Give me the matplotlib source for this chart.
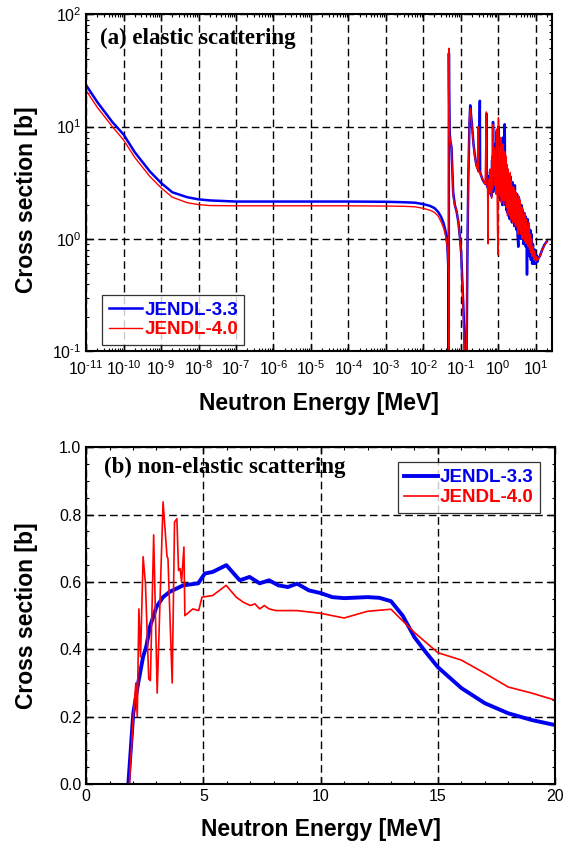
import matplotlib
matplotlib.use("Agg")
import numpy as np
import matplotlib.pyplot as plt
from matplotlib.ticker import (LogLocator, MultipleLocator, FormatStrFormatter,
                               NullFormatter, FuncFormatter)

plt.rcParams["font.family"] = ["Liberation Sans", "DejaVu Sans"]
plt.rcParams["mathtext.fontset"] = "custom"
plt.rcParams["mathtext.rm"] = "Liberation Sans"
plt.rcParams["mathtext.it"] = "Liberation Sans:italic"
plt.rcParams["mathtext.bf"] = "Liberation Sans:bold"

labels = ["JENDL-3.3", "JENDL-4.0"]
colors = ["#0000ee", "#ff0000"]

# (a) elastic scattering, energy in MeV, cross section in b
# smooth part
e_el_a = [1e-11, 2e-11, 5e-11, 1e-10, 2e-10, 5e-10, 1e-9, 2e-9, 5e-9, 1e-8, 2e-8, 1e-7,
          1e-6, 1e-5, 1e-4, 1e-3, 3e-3, 6e-3, 1e-2, 1.5e-2, 2e-2, 2.5e-2, 3e-2, 3.5e-2,
          4e-2, 4.4e-2]
xs33_a = [23.4, 16.5, 11.0, 8.5, 5.9, 4.0, 3.15, 2.6, 2.35, 2.25, 2.2, 2.15,
          2.15, 2.15, 2.15, 2.14, 2.12, 2.1, 2.04, 1.97, 1.88, 1.74, 1.57, 1.38,
          1.15, 0.88]
xs40_a = [21.0, 14.8, 10.0, 7.6, 5.3, 3.6, 2.85, 2.35, 2.1, 2.02, 1.98, 1.97,
          1.97, 1.97, 1.97, 1.96, 1.95, 1.93, 1.87, 1.8, 1.72, 1.6, 1.42, 1.25,
          1.05, 0.85]

# first resonances
e_el_b = [0.0465, 0.0475, 0.048, 0.0485, 0.049, 0.0505, 0.053, 0.057, 0.063, 0.07, 0.078,
          0.087, 0.095, 0.103, 0.11, 0.118, 0.125, 0.132, 0.142, 0.148, 0.153, 0.16,
          0.166, 0.172]
xs33_b = [0.6, 0.5, 0.05, 45.0, 22.0, 9.0, 7.5, 6.5, 2.6, 2.0, 1.75, 1.4, 1.05,
          0.75, 0.45, 0.25, 0.14, 0.06, 0.05, 0.3, 1.1, 3.5, 6.0, 11.0]
xs40_b = [0.6, 0.5, 0.05, 50.0, 22.0, 8.5, 7.5, 6.5, 2.4, 1.95, 1.8, 1.4, 1.0,
          0.75, 0.4, 0.2, 0.1, 0.05, 0.05, 0.4, 1.2, 3.8, 6.0, 12.0]

e_el_c = [0.18, 0.19, 0.2, 0.21, 0.22, 0.235, 0.25, 0.265, 0.28, 0.29, 0.295, 0.3, 0.31,
          0.325, 0.33, 0.34, 0.36, 0.38, 0.4, 0.42, 0.45, 0.48, 0.49, 0.5, 0.52, 0.54]
xs33_c = [15.5, 12.5, 10.5, 8.5, 7.0, 5.8, 5.0, 4.5, 4.3, 4.2, 4.1, 4.0, 4.0,
          17.0, 4.0, 3.8, 3.6, 3.4, 3.3, 3.2, 3.1, 3.2, 13.0, 3.0, 2.9, 2.8]
xs40_c = [14.5, 12.0, 10.0, 8.2, 6.8, 5.6, 4.9, 4.4, 4.2, 10.0, 4.1, 4.0, 3.9,
          4.0, 3.9, 3.7, 3.6, 3.4, 3.3, 3.2, 3.1, 13.5, 13.5, 3.0, 2.9, 0.9]

# dense resonance region
e_el_d = [0.55, 0.57, 0.59, 0.61, 0.63, 0.65, 0.67, 0.69, 0.71, 0.73,
          0.755, 0.78, 0.81, 0.84, 0.87, 0.9, 0.93, 0.96, 0.99, 1.02,
          1.06, 1.1, 1.14, 1.18, 1.22, 1.26, 1.3, 1.35, 1.4, 1.45,
          1.5, 1.55, 1.6, 1.66, 1.72, 1.78, 1.84, 1.9, 1.97, 2.04,
          2.11, 2.18, 2.26, 2.34, 2.42, 2.5, 2.6, 2.7, 2.8, 2.9,
          3.0, 3.1, 3.2, 3.3, 3.45, 3.6, 3.75, 3.9, 4.05, 4.2,
          4.35, 4.5, 4.7, 4.9, 5.1, 5.3, 5.5, 5.7, 5.9, 6.1,
          6.35, 6.6, 6.9, 7.2, 7.5, 7.8, 8.1]
xs33_d = [2.8, 3.6, 2.6, 4.0, 2.5, 2.7, 2.4, 5.0, 2.6, 11.0,
          3.2, 7.0, 2.8, 5.5, 2.6, 9.0, 2.7, 4.5, 3.0, 10.0,
          2.5, 6.0, 2.2, 7.5, 2.3, 5.0, 2.0, 8.0, 2.4, 4.5,
          10.5, 2.0, 5.0, 1.8, 4.2, 1.7, 3.8, 1.9, 3.4, 1.5,
          3.6, 1.6, 2.9, 1.4, 3.2, 1.5, 2.7, 1.3, 3.0, 1.3,
          2.4, 1.2, 2.5, 1.1, 0.85, 2.3, 1.2, 2.0, 1.0, 2.0,
          1.0, 1.8, 0.9, 1.7, 0.9, 1.6, 0.85, 1.3, 0.48, 1.5,
          0.8, 1.3, 0.7, 1.2, 0.65, 1.1, 0.6]
xs40_d = [2.8, 3.4, 2.6, 4.2, 2.6, 2.9, 2.3, 5.5, 2.8, 10.5,
          3.6, 6.5, 3.0, 6.0, 2.5, 9.5, 3.0, 1.2, 0.72, 12.0,
          2.8, 6.5, 2.4, 8.0, 2.1, 5.5, 2.2, 7.0, 2.0, 5.0,
          6.0, 2.2, 5.5, 1.9, 4.6, 1.6, 4.2, 1.7, 3.2, 1.6,
          3.9, 1.5, 3.3, 1.5, 2.9, 1.4, 2.9, 1.4, 2.7, 1.3,
          2.6, 1.3, 2.3, 1.2, 1.1, 2.4, 1.2, 2.2, 1.1, 1.9,
          1.0, 1.9, 1.0, 1.6, 0.95, 1.7, 0.9, 1.5, 1.0, 1.3,
          0.85, 1.4, 0.8, 1.1, 0.75, 1.0, 0.7]

e_el_e = [8.5, 9.0, 9.5, 10.0, 10.5, 11.0, 12.0, 13.0, 14.0, 15.0, 17.0, 20.0]
xs33_e = [0.9, 0.6, 0.8, 0.6, 0.72, 0.62, 0.68, 0.7, 0.75, 0.8, 0.88, 0.95]
xs40_e = [0.85, 0.65, 0.78, 0.63, 0.7, 0.65, 0.66, 0.7, 0.74, 0.8, 0.87, 0.95]

e_el = e_el_a + e_el_b + e_el_c + e_el_d + e_el_e
xs_el_33 = xs33_a + xs33_b + xs33_c + xs33_d + xs33_e
xs_el_40 = xs40_a + xs40_b + xs40_c + xs40_d + xs40_e

# (b) non-elastic scattering
e_ne_33 = [1.8, 1.87, 2.01, 2.22, 2.43, 2.57, 2.72, 3.0, 3.28, 3.57, 4.14, 4.78, 5.06,
           5.4, 5.98, 6.55, 6.97, 7.4, 7.8, 8.2, 8.6, 9.0, 9.5, 10.0, 10.5, 11.0, 12.0,
           12.5, 13.0, 13.5, 14.0, 14.5, 15.0, 16.0, 17.0, 18.0, 19.0, 20.0]
xs_ne_33 = [0.0, 0.07, 0.21, 0.30, 0.378, 0.41, 0.467, 0.526, 0.555, 0.571, 0.59, 0.596,
            0.625, 0.63, 0.65, 0.605, 0.615, 0.596, 0.605, 0.59, 0.585, 0.595, 0.575,
            0.567, 0.555, 0.552, 0.555, 0.553, 0.543, 0.5, 0.436, 0.39, 0.347, 0.285,
            0.24, 0.21, 0.19, 0.175]

e_ne_40 = [1.84, 2.01, 2.12, 2.18, 2.25, 2.32, 2.43, 2.53, 2.67, 2.74, 2.88, 3.03, 3.28,
           3.45, 3.49, 3.67, 3.77, 3.87, 3.94, 4.01, 4.07, 4.17, 4.21, 4.55, 4.8, 4.94,
           5.4, 5.97, 6.4, 6.7, 7.0, 7.2, 7.4, 7.6, 7.8, 8.1, 9.0, 10.0, 11.0, 12.0,
           13.0, 14.0, 15.0, 16.0, 17.0, 18.0, 19.0, 20.0]
xs_ne_40 = [0.0, 0.2, 0.3, 0.2, 0.52, 0.378, 0.675, 0.594, 0.312, 0.307, 0.74, 0.27,
            0.838, 0.675, 0.67, 0.3, 0.778, 0.788, 0.634, 0.64, 0.6, 0.704, 0.5, 0.52,
            0.515, 0.555, 0.56, 0.59, 0.555, 0.54, 0.53, 0.535, 0.52, 0.53, 0.52, 0.515,
            0.515, 0.507, 0.493, 0.513, 0.519, 0.45, 0.39, 0.368, 0.329, 0.288, 0.27,
            0.249]


def decade(x, pos):
    n = int(round(np.log10(x)))
    if n < 0:
        return r"$10^{\text{-}%d}$" % (-n)
    return r"$10^{%d}$" % n


fig = plt.figure(figsize=(5.63, 8.48), dpi=100)
ax1 = fig.add_axes([0.153, 0.586, 0.827, 0.397])
ax2 = fig.add_axes([0.153, 0.0755, 0.833, 0.397])

grid_style = dict(color="black", linestyle=(0, (5.5, 3)), linewidth=1.0)
leg_style = dict(prop={"weight": "bold", "size": 13.5}, frameon=True, fancybox=False,
                 edgecolor="black", handlelength=1.8, handletextpad=0.1,
                 labelspacing=0.15, borderpad=0.35, borderaxespad=0)

# top panel
ax1.plot(e_el, xs_el_33, color=colors[0], linewidth=1.8, label=labels[0])
ax1.plot(e_el, xs_el_40, color=colors[1], linewidth=1.0, label=labels[1])
ax1.set_xscale("log")
ax1.set_yscale("log")
ax1.set_xlim(1e-11, 27)
ax1.set_ylim(0.1, 100)
ax1.xaxis.set_major_locator(LogLocator(base=10, numticks=20))
ax1.xaxis.set_major_formatter(FuncFormatter(decade))
ax1.yaxis.set_major_formatter(FuncFormatter(decade))
ax1.xaxis.set_minor_locator(LogLocator(base=10, subs=range(2, 10), numticks=200))
ax1.xaxis.set_minor_formatter(NullFormatter())
ax1.yaxis.set_minor_locator(LogLocator(base=10, subs=range(2, 10), numticks=200))
ax1.yaxis.set_minor_formatter(NullFormatter())
ax1.grid(True, which="major", **grid_style)
ax1.set_xlabel("Neutron Energy [MeV]", fontsize=16.5, fontweight="bold", labelpad=10)
ax1.set_ylabel("Cross section [b]", fontsize=16.5, fontweight="bold")
ax1.yaxis.set_label_coords(-0.103, 0.451)
ax1.text(0.03, 0.93, "(a) elastic scattering", transform=ax1.transAxes,
         family="Liberation Serif", fontsize=16.5, fontweight="bold", va="center")
leg1 = ax1.legend(loc="lower left", bbox_to_anchor=(0.034, 0.018), **leg_style)
leg1.get_frame().set_linewidth(0.9)
for t, c in zip(leg1.get_texts(), colors):
    t.set_color(c)

# bottom panel
ax2.plot(e_ne_33, xs_ne_33, color=colors[0], linewidth=2.8, label=labels[0])
ax2.plot(e_ne_40, xs_ne_40, color=colors[1], linewidth=1.2, label=labels[1])
ax2.set_xlim(0, 20)
ax2.set_ylim(0, 1.0)
ax2.xaxis.set_major_locator(MultipleLocator(5))
ax2.xaxis.set_minor_locator(MultipleLocator(1))
ax2.yaxis.set_major_locator(MultipleLocator(0.2))
ax2.yaxis.set_minor_locator(MultipleLocator(0.05))
ax2.yaxis.set_major_formatter(FormatStrFormatter("%.1f"))
ax2.grid(True, which="major", **grid_style)
ax2.set_xlabel("Neutron Energy [MeV]", fontsize=16.5, fontweight="bold", labelpad=10)
ax2.set_ylabel("Cross section [b]", fontsize=16.5, fontweight="bold")
ax2.yaxis.set_label_coords(-0.103, 0.5)
ax2.text(0.038, 0.94, "(b) non-elastic scattering", transform=ax2.transAxes,
         family="Liberation Serif", fontsize=16.5, fontweight="bold", va="center")
leg2 = ax2.legend(loc="upper right", bbox_to_anchor=(0.968, 0.955), **leg_style)
leg2.get_frame().set_linewidth(0.9)
for t, c in zip(leg2.get_texts(), colors):
    t.set_color(c)

for ax in [ax1, ax2]:
    for s in ax.spines.values():
        s.set_linewidth(1.5)
    ax.tick_params(which="both", direction="in", top=True, right=True)
    ax.tick_params(which="major", length=5, width=1)
    ax.tick_params(which="minor", length=2.5, width=0.8)
ax1.tick_params(axis="both", labelsize=11.5)
ax1.tick_params(axis="x", pad=6)
ax2.tick_params(axis="both", labelsize=11.5)

fig.savefig("out.png", dpi=100)
